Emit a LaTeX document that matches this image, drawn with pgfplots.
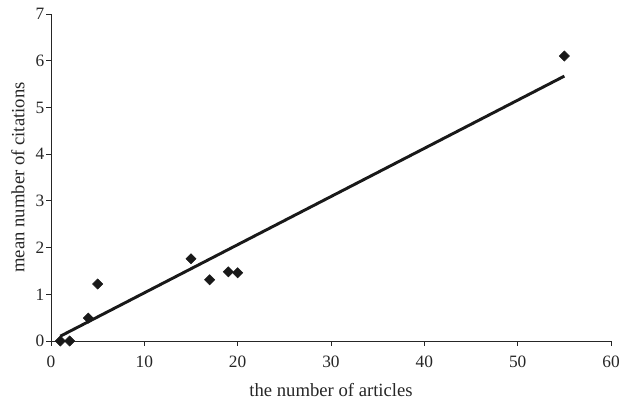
\documentclass[border=0pt]{standalone}
\usepackage{pgfplots}
\pgfplotsset{compat=1.18}
\usepackage{fontspec}
\setmainfont{Liberation Serif}
\begin{document}
\begin{tikzpicture}[x=1pt,y=1pt]
\begin{axis}[
  at={(0,0)}, anchor=south west,
  scale only axis, width=420pt, height=245.25pt,
  xmin=0, xmax=60, ymin=0, ymax=7,
  axis lines*=left,
  axis line style={line width=0.7pt, black!85},
  xtick={0,10,...,60}, ytick={0,1,...,7},
  tick align=outside, major tick length=3.5pt,
  tick style={line width=0.7pt, black!85},
  /pgf/number format/assume math mode=true,
  tick label style={font=\fontsize{13}{15}\selectfont, text=black!85},
  xticklabel style={yshift=-4.5pt},
  yticklabel style={xshift=2pt},
  xlabel={the number of articles}, ylabel={mean number of citations},
  label style={font=\fontsize{14}{16}\selectfont, text=black!85},
  xlabel style={at={(axis description cs:0.5,0)}, anchor=center, yshift=-36.75pt},
  ylabel style={at={(axis description cs:-0.0589,0.5)}, anchor=center},
  clip=false,
]
\addplot[only marks, mark=square*, mark size=2.7pt, mark options={rotate=45}, black!90] coordinates {
(1,0) (2,0) (4,0.49) (5,1.22) (15,1.76) (17,1.31) (19,1.48) (20,1.46) (55,6.10)
};
\addplot[line width=2.2pt, black!90] coordinates {(1,0.103) (55,5.67)};
\end{axis}
\pgfresetboundingbox
\path (-38.25pt,-46.5pt) rectangle (428.25pt,255.75pt);
\end{tikzpicture}
\end{document}
